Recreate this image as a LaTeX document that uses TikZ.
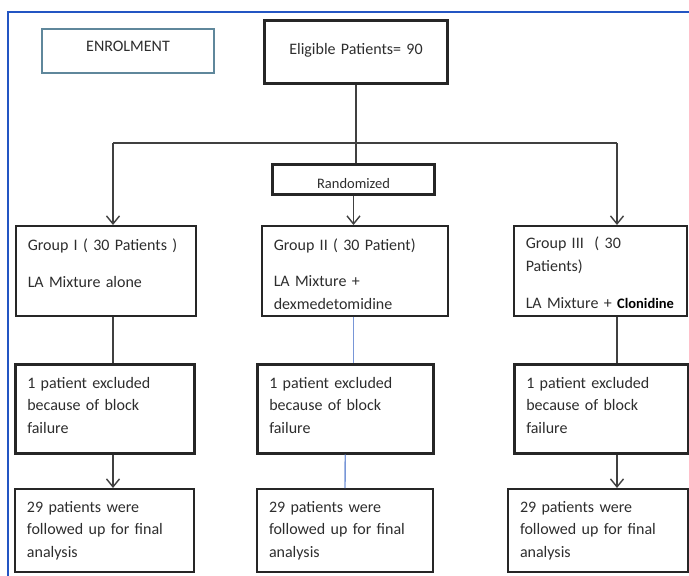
\documentclass[tikz,border=0pt]{standalone}
\usepackage{fontspec}
\setmainfont{Carlito}
\definecolor{flow_frame}{RGB}{35, 85, 195}
\definecolor{flow_enrol}{RGB}{95, 135, 155}
\definecolor{flow_link}{RGB}{120, 150, 215}
\definecolor{flow_text}{RGB}{45, 45, 45}
\usepackage{tikz}
\usetikzlibrary{arrows.meta}

\tikzset{
  flowbox/.style={draw=black!85, anchor=north west, inner xsep=12pt, inner ysep=0pt,
    align=left, text=flow_text, font=\fontsize{16}{22.5}\selectfont},
  flowline/.style={draw=black!75, line width=1.4pt},
  flowarrow/.style={flowline, -{Straight Barb[length=8pt,width=13pt]}},
}

\begin{document}
\begin{tikzpicture}[x=1pt, y=-1pt]
        \useasboundingbox (0,0) rectangle (689,576);

        % --- Frame ---
        \draw[flow_frame, line width=1.6pt] (8,576) -- (8,12) -- (689,12);

        % --- Top row ---
        \node[flowbox, line width=2pt, draw=flow_enrol, align=center, text width=148pt,
          text height=22pt, text depth=22pt] (enrol) at (41,28) {ENROLMENT};
        \node[flowbox, line width=3pt, align=center, text width=159pt,
          text height=34pt, text depth=29pt] (elig) at (263,19) {Eligible Patients= 90};
        \node[flowbox, line width=3pt, align=center, text width=138pt,
          text height=23.5pt, text depth=6.5pt, font=\fontsize{14.5}{17}\selectfont]
          (rand) at (271,163) {Randomized};

        % Column positions
        \coordinate (colA) at (113,143);
        \coordinate (colC) at (617,143);

        % --- Groups ---
        \node[flowbox, line width=1.5pt, text width=156pt, text height=25pt, text depth=65pt]
          (grpA) at (15,225) {Group I ( 30 Patients )\\[14.5pt]LA Mixture alone};
        \node[flowbox, line width=1.5pt, text width=162pt, text height=25pt, text depth=65pt]
          (grpB) at (261,225) {Group II ( 30 Patient)\\[13.5pt]LA Mixture +\\dexmedetomidine};
        \node[flowbox, line width=1.5pt, text width=149pt, text height=23pt, text depth=67pt]
          (grpC) at (513,225) {Group III\ \ ( 30\\Patients)\\[14.5pt]LA Mixture +
          {\color{black}\bfseries\fontsize{14.5}{22.5}\selectfont Clonidine}};

        % --- Exclusions ---
        \node[flowbox, line width=2.5pt, text width=155pt, text height=24pt, text depth=65pt]
          (exA) at (14,363) {1 patient excluded\\because of block\\failure};
        \node[flowbox, line width=2.5pt, text width=152pt, text height=24pt, text depth=65pt]
          (exB) at (256,363) {1 patient excluded\\because of block\\failure};
        \node[flowbox, line width=2.5pt, text width=150pt, text height=24pt, text depth=65pt]
          (exC) at (513,363) {1 patient excluded\\because of block\\failure};

        % --- Final analysis ---
        \node[flowbox, line width=2pt, text width=155pt, text height=23pt, text depth=60pt]
          (finA) at (14,488) {29 patients were\\followed up for final\\analysis};
        \node[flowbox, line width=2pt, text width=152pt, text height=23pt, text depth=60pt]
          (finB) at (256,488) {29 patients were\\followed up for final\\analysis};
        \node[flowbox, line width=2pt, text width=156pt, text height=23pt, text depth=60pt]
          (finC) at (507,488) {29 patients were\\followed up for final\\analysis};

        % --- Connectors ---
        \draw[flowline] (elig.south) -- (elig.south |- rand.north);
        \draw[flowline] (colA) -- (colC);
        \draw[flowarrow] (colA) -- (colA |- grpA.north);
        \draw[flowarrow] (rand.south) -- (rand.south |- grpB.north);
        \draw[flowarrow] (colC) -- (colC |- grpC.north);

        \draw[flowline] (grpA.south -| colA) -- (exA.north -| colA);
        \draw[flowline, draw=flow_link] (grpB.south -| rand.south) -- (exB.north -| rand.south);
        \draw[flowline] (grpC.south -| colC) -- (exC.north -| colC);

        \draw[flowarrow] (exA.south -| colA) -- (finA.north -| colA);
        \draw[flowline, draw=flow_link] (exB.south) -- (finB.north);
        \draw[flowarrow] (exC.south -| colC) -- (finC.north -| colC);
\end{tikzpicture}
\end{document}
